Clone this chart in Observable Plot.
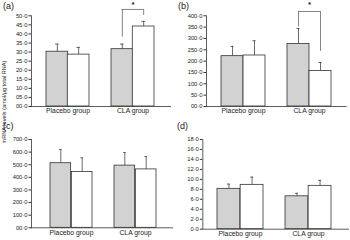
<!DOCTYPE html>
<html>
<head>
<meta charset="utf-8">
<script src="https://cdn.jsdelivr.net/npm/d3@7"></script>
<script src="https://cdn.jsdelivr.net/npm/@observablehq/plot@0.6"></script>
<style>
  body { margin: 0; background: #fff; font-family: "Liberation Sans", Arial, sans-serif; }
  #wrap { position: relative; width: 350px; height: 240px; overflow: hidden; }
  .cell { position: absolute; width: 175px; height: 120px; }
  .lab { position: absolute; font-size: 9px; color: #222; }
  #ylab { position: absolute; font-size: 5.6px; color: #222; white-space: nowrap;
          transform: translate(-50%, -50%) rotate(-90deg); left: 3.5px; top: 102px; }
</style>
</head>
<body>
<div id="wrap"></div>
<script>
// ---- data ----
const groups = ["Placebo group", "CLA group"];
const panelLabels = ["(a)", "(b)", "(c)", "(d)"];
const yLabel = "mRNA levels (amol/\u03bcg total RNA)";
// grey bars (baseline) and white bars (after), means and SE
const greyMeans  = [[30.2, 31.6], [222, 276], [512, 493], [8.1, 6.6]];
const greySE     = [[4.2, 2.8],   [43, 68],   [108, 104], [0.95, 0.6]];
const whiteMeans = [[28.6, 44.1], [225, 157], [443, 463], [8.9, 8.7]];
const whiteSE    = [[4.0, 2.8],   [65, 37],   [112, 102], [1.55, 1.1]];
const yMax       = [50, 400, 700, 18];
const yStep      = [5, 50, 100, 2];
const yFormats   = ["04.1f", "04.1f", "04.1f", ".1f"];
// significance brackets: [top, left leg bottom, right leg bottom, star]
const brackets   = [[53.5, 38.2, 50.2, 56.5], [419, 351, 243, 452], null, null];

// ---- layout (styling only) ----
const cells = [
  {left: 0,   top: 0,   mt: 15.3, mb: 14,   ml: 31,   mr: 4,   xr: [45.7, 153.3], pad: 0.345},
  {left: 175, top: 0,   mt: 15.3, mb: 14,   ml: 31,   mr: 3.3, xr: [45.0, 155.7], pad: 0.34},
  {left: 0,   top: 120, mt: 19,   mb: 12.7, ml: 31,   mr: 2,   xr: [49.3, 156.7], pad: 0.34},
  {left: 175, top: 120, mt: 19,   mb: 11.3, ml: 27.3, mr: 1,   xr: [42.3, 156.7], pad: 0.32}
];
const labPos = [[3, 1], [178, 1], [3, 121], [177, 121]];

const wrap = document.getElementById("wrap");
const dotFmt = f => v => d3.format(f)(v).replace(".", "\u00b7");

cells.forEach((c, i) => {
  const grey = groups.map((g, j) => ({group: g, mean: greyMeans[i][j], top: greyMeans[i][j] + greySE[i][j]}));
  const white = groups.map((g, j) => ({group: g, mean: whiteMeans[i][j], top: whiteMeans[i][j] + whiteSE[i][j]}));
  const bw = (c.xr[1] - c.xr[0]) * (1 - c.pad) / (2 - c.pad);
  const q = bw / 4;
  const capIn = bw / 2 - 1.6;
  const ticks = d3.range(0, yMax[i] + yStep[i] / 2, yStep[i]);
  const marks = [
    Plot.barY(grey, {x: "group", y: "mean", fill: "#d2d2d2", stroke: "#333", strokeWidth: 0.8, insetRight: bw / 2}),
    Plot.barY(white, {x: "group", y: "mean", fill: "#fff", stroke: "#333", strokeWidth: 0.8, insetLeft: bw / 2}),
    Plot.ruleX(grey, {x: "group", y1: "mean", y2: "top", dx: -q, stroke: "#444", strokeWidth: 0.8}),
    Plot.ruleX(white, {x: "group", y1: "mean", y2: "top", dx: q, stroke: "#444", strokeWidth: 0.8}),
    Plot.tickY(grey, {x: "group", y: "top", dx: -q, insetLeft: capIn, insetRight: capIn, stroke: "#444", strokeWidth: 0.8}),
    Plot.tickY(white, {x: "group", y: "top", dx: q, insetLeft: capIn, insetRight: capIn, stroke: "#444", strokeWidth: 0.8}),
    Plot.ruleY([0], {stroke: "#333", strokeWidth: 0.8}),
    Plot.frame({anchor: "left", stroke: "#333", strokeWidth: 0.8}),
    Plot.axisY({ticks, tickFormat: dotFmt(yFormats[i]), label: null, tickSize: 2.5, tickPadding: 1.5, fontSize: 5.8, fill: "#222", stroke: "#333"}),
    Plot.axisX({tickSize: 0, tickPadding: 2, label: null, fontSize: 6.8, fill: "#222"})
  ];
  const b = brackets[i];
  if (b) {
    const g = "CLA group";
    marks.push(
      Plot.ruleX([{group: g, y1: b[1], y2: b[0]}], {x: "group", y1: "y1", y2: "y2", dx: -q, stroke: "#666", strokeWidth: 0.8}),
      Plot.ruleX([{group: g, y1: b[2], y2: b[0]}], {x: "group", y1: "y1", y2: "y2", dx: q, stroke: "#666", strokeWidth: 0.8}),
      Plot.tickY([{group: g, y: b[0]}], {x: "group", y: "y", insetLeft: q, insetRight: q, stroke: "#666", strokeWidth: 0.8}),
      Plot.text([{group: g, y: b[3], t: "*"}], {x: "group", y: "y", text: "t", fontSize: 8, fontWeight: "bold", fill: "#222"})
    );
  }
  const plot = Plot.plot({
    width: 175, height: 120,
    marginTop: c.mt, marginBottom: c.mb, marginLeft: c.ml, marginRight: c.mr,
    style: {fontFamily: "Liberation Sans, Arial, sans-serif", background: "transparent", overflow: "visible"},
    x: {type: "band", domain: groups, range: c.xr, paddingInner: c.pad, paddingOuter: 0, axis: null},
    y: {domain: [0, yMax[i]], axis: null},
    marks
  });
  const cell = document.createElement("div");
  cell.className = "cell";
  cell.style.left = c.left + "px";
  cell.style.top = c.top + "px";
  cell.appendChild(plot);
  wrap.appendChild(cell);
  const lab = document.createElement("div");
  lab.className = "lab";
  lab.textContent = panelLabels[i];
  lab.style.left = labPos[i][0] + "px";
  lab.style.top = labPos[i][1] + "px";
  wrap.appendChild(lab);
});
const yl = document.createElement("div");
yl.id = "ylab";
yl.textContent = yLabel;
wrap.appendChild(yl);
</script>
</body>
</html>
